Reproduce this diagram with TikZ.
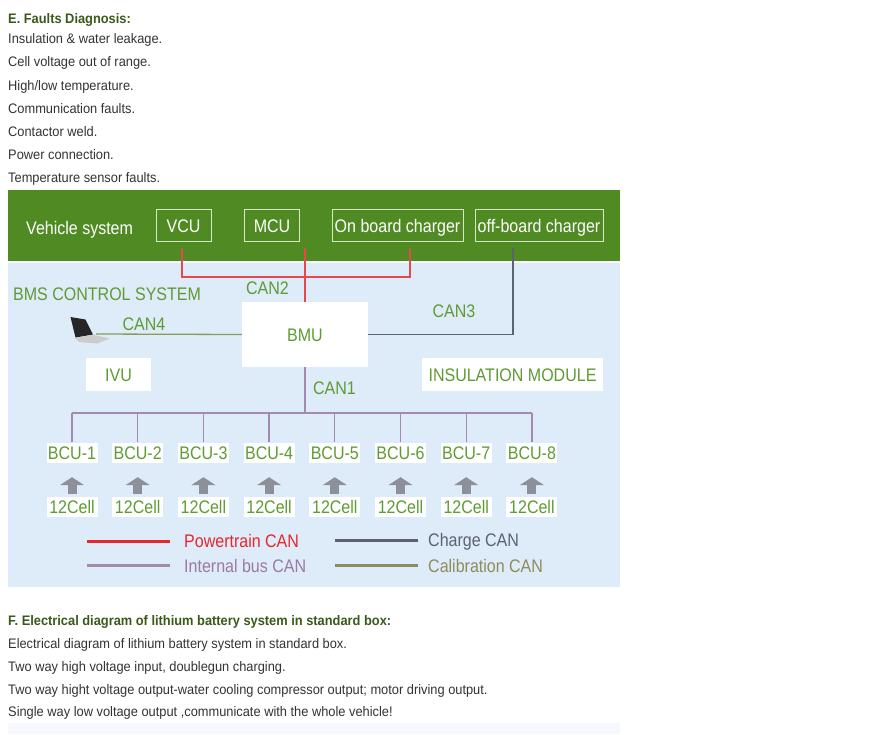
\documentclass[tikz,border=0pt]{standalone}
\usepackage{fontspec}
\setmainfont{Liberation Sans}
\newfontfamily\diag[FakeStretch=0.88]{Liberation Sans}
\newfontfamily\body[FakeStretch=0.93]{Liberation Sans}
\usetikzlibrary{positioning, arrows.meta}

\definecolor{bandgreen}{HTML}{4F8A23}
\definecolor{paleblue}{HTML}{DEEBF8}
\definecolor{boxline}{HTML}{D6E6C6}
\definecolor{txtgreen}{HTML}{5E9B32}
\definecolor{headgreen}{HTML}{3B5A1A}
\definecolor{bodygray}{HTML}{333333}
\definecolor{canred}{HTML}{E8474C}
\definecolor{legred}{HTML}{E8262C}
\definecolor{buspurple}{HTML}{A48BAE}
\definecolor{legpurple}{HTML}{9B7AA3}
\definecolor{chargegray}{HTML}{5B6270}
\definecolor{calline}{HTML}{8A9C5A}
\definecolor{calolive}{HTML}{8C8C5C}
\definecolor{arrowgray}{HTML}{8E9099}

\begin{document}
\begin{tikzpicture}[x=1pt,y=-1pt,
  txt/.style={anchor=base west,inner sep=0pt,text=bodygray,font=\body\fontsize{13.8}{15}\selectfont},
  head/.style={txt,text=headgreen,font=\body\fontsize{13.8}{15}\selectfont\bfseries},
  lab/.style={inner sep=0pt,text=txtgreen,font=\diag\fontsize{18.2}{20}\selectfont,text height=13pt,text depth=0pt},
  unit/.style={lab,draw=boxline,line width=1pt,text=white,minimum height=32pt},
  wbox/.style={lab,fill=white},
  can/.style={line width=1.3pt},
  key/.style={line width=3pt},
  lift/.style={-{Triangle[width=24pt,length=8pt]},line width=9pt,arrowgray,shorten <=3pt,shorten >=14.5pt}]

  \fill[white] (0,0) rectangle (896,734);
  \useasboundingbox (0,0) rectangle (896,734);

  % text above
  \node[head] (ehead) at (8,23) {E. Faults Diagnosis:};
  \node[txt] (e1) at (8,43) {Insulation \& water leakage.};
  \node[txt] (e2) at (8,66.5) {Cell voltage out of range.};
  \node[txt] (e3) at (8,90) {High/low temperature.};
  \node[txt] (e4) at (8,113) {Communication faults.};
  \node[txt] (e5) at (8,136.5) {Contactor weld.};
  \node[txt] (e6) at (8,159) {Power connection.};
  \node[txt] (e7) at (8,182) {Temperature sensor faults.};

  % panels
  \fill[bandgreen] (8,190) rectangle (620,261);
  \fill[paleblue] (8,263) rectangle (620,587);

  \node[lab,text=white,anchor=west] (veh) at (26,227.5) {Vehicle system};
  \node[unit,minimum width=55pt] (vcu) at (183.5,225.5) {VCU};
  \node[unit,minimum width=55pt] (mcu) at (272,225.5) {MCU};
  \node[unit,minimum width=131pt] (obc) at (397.5,225.5) {On board charger};
  \node[unit,minimum width=128pt] (offc) at (539,225.5) {off-board charger};

  \node[lab,anchor=west] (bms) at (13,294) {BMS CONTROL SYSTEM};
  \node[wbox,minimum width=126pt,minimum height=65pt] (bmu) at (305,334.5) {BMU};
  \node[wbox,minimum width=65pt,minimum height=33pt] (ivu) at (118.5,374.5) {IVU};
  \node[wbox,minimum width=181pt,minimum height=33pt] (ins) at (512.5,374.5) {INSULATION MODULE};

  \node[lab] (can2) at (267.5,287.5) {CAN2};
  \node[lab] (can4) at (144,324) {CAN4};
  \node[lab] (can3) at (454,311) {CAN3};
  \node[lab] (can1) at (334.5,388) {CAN1};

  % laptop
  \fill[black!85] (70.5,317) -- (85.5,319.5) -- (93,334.5) -- (75.5,337.5) -- cycle;
  \fill[gray!40] (75.5,338) -- (93,334.8) -- (110,338.5) -- (97,343.5) -- (79,342) -- cycle;
  \coordinate (pc) at (96,334);

  \coordinate (vcutap) at (182,248);
  \coordinate (obctap) at (410,248);
  \coordinate (bmutap) at (305,248);
  \coordinate (offtap) at (513,248);
  \coordinate (bus) at (305,413);

  \draw[can,canred] (vcutap) -- ++(0,29) -| (obctap);
  \draw[can,canred] (bmu.north) -- (bmutap);
  \draw[can,chargegray] (bmu.east) -| (offtap);
  \draw[can,calline] (pc) -- (bmu.west);
  \draw[can,buspurple] (bmu.south) -- (bus);

  \foreach \i in {1,...,8}{
    \node[wbox,minimum width=51pt,minimum height=20pt] (bcu\i) at ({72+65.7*(\i-1)},452.5) {BCU-\i};
    \node[wbox,minimum width=51pt,minimum height=20pt] (cell\i) at ({72+65.7*(\i-1)},507) {12Cell};
    \draw[lift] (cell\i.north) -- (bcu\i.south);
    \draw[can,buspurple] (bcu\i.north) -- (bcu\i.north |- bus);
  }
  \draw[can,buspurple] (bcu1.north |- bus) -- (bcu8.north |- bus);

  % legend
  \node[lab,text=legred,anchor=west] (ptcan) at (184,541) {Powertrain CAN};
  \node[lab,text=legpurple,anchor=west] (ibcan) at (184,565.5) {Internal bus CAN};
  \node[lab,text=chargegray,anchor=west] (chcan) at (428,540) {Charge CAN};
  \node[lab,text=calolive,anchor=west] (calcan) at (428,565.5) {Calibration CAN};
  \draw[key,legred] ([xshift=-14pt]ptcan.west) -- ++(-83,0);
  \draw[key,buspurple,line width=2.5pt] ([xshift=-14pt]ibcan.west) -- ++(-83,0);
  \draw[key,chargegray] ([xshift=-10pt]chcan.west) -- ++(-83,0);
  \draw[key,calolive,line width=2.5pt] ([xshift=-10pt]calcan.west) -- ++(-83,0);

  % text below
  \node[head] (fhead) at (8,625.5) {F. Electrical diagram of lithium battery system in standard box:};
  \node[txt] (f1) at (8,648) {Electrical diagram of lithium battery system in standard box.};
  \node[txt] (f2) at (8,671) {Two way high voltage input, doublegun charging.};
  \node[txt] (f3) at (8,694) {Two way hight voltage output-water cooling compressor output; motor driving output.};
  \node[txt] (f4) at (8,716) {Single way low voltage output ,communicate with the whole vehicle!};
  \fill[blue!3] (8,723) rectangle (620,734);
\end{tikzpicture}
\end{document}
